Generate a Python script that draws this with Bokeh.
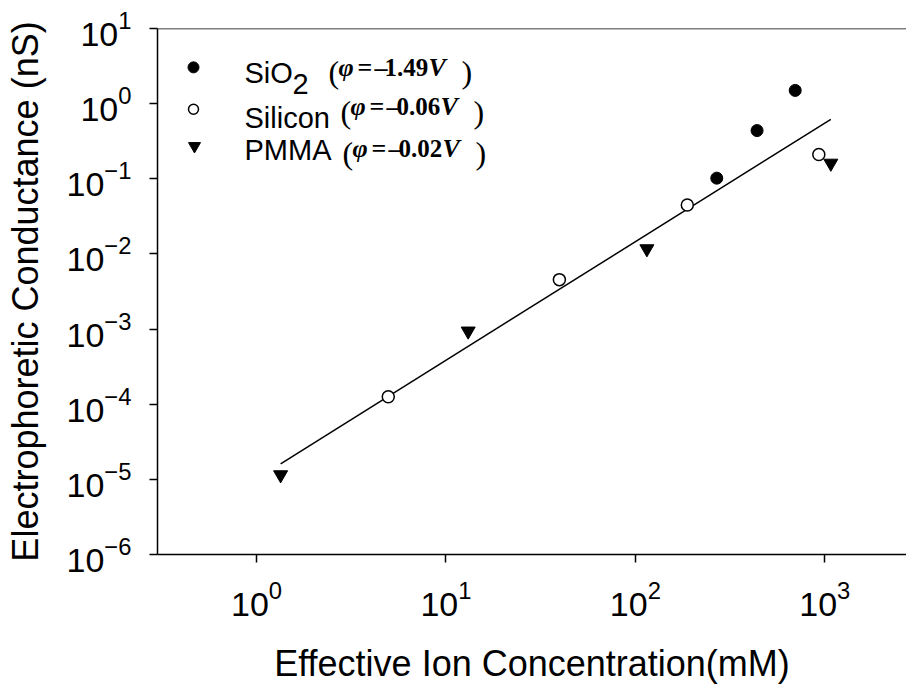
import math
from bokeh.plotting import figure
from bokeh.models import ColumnDataSource, Span, FixedTicker
from bokeh.core.properties import value
from bokeh.embed import file_html
from bokeh.resources import INLINE

# ---- data ----
x_ticks = [1, 10, 100, 1000]
y_ticks = [1e-6, 1e-5, 1e-4, 1e-3, 1e-2, 1e-1, 1, 10]

sio2_x = [269, 439, 698]
sio2_y = [0.102, 0.438, 1.50]

silicon_x = [4.96, 39.7, 188, 930]
silicon_y = [1.26e-4, 4.55e-3, 0.0449, 0.21]

pmma_x = [1.34, 13.1, 115, 1076]
pmma_y = [1.15e-5, 9.4e-4, 0.0117, 0.161]

fit_x = [1.34, 1076]
fit_y = [1.61e-5, 0.618]

series_names = ["SiO", "Silicon", "PMMA"]
potentials = ["1.49", "0.06", "0.02"]

# ---- figure geometry ----
W, H = 906, 686
LEFT, RIGHT, TOP, BOTTOM = 157, 906, 28, 556
X0, X1 = 0.3, 2700
Y0, Y1 = 1e-6, 10

p = figure(width=W, height=H, x_axis_type="log", y_axis_type="log",
           x_range=(X0, X1), y_range=(Y0, Y1),
           output_backend="svg", toolbar_location=None,
           min_border_left=LEFT, min_border_right=W - RIGHT,
           min_border_top=TOP, min_border_bottom=H - BOTTOM)
p.grid.visible = False
p.outline_line_color = None
p.background_fill_color = "white"
p.border_fill_color = "white"

for ax, ticks in ((p.xaxis[0], x_ticks), (p.yaxis[0], y_ticks)):
    ax.ticker = FixedTicker(ticks=ticks)
    ax.axis_line_width = 1.5
    ax.axis_line_color = "black"
    ax.major_tick_in = 0
    ax.major_tick_out = 8
    ax.major_tick_line_width = 1.5
    ax.major_tick_line_color = "black"
    ax.minor_tick_line_color = None
    ax.major_label_text_font = "Liberation Sans"
    ax.major_label_text_font_size = "34px"
    ax.major_label_text_color = "black"
    ax.major_label_standoff = 18
    ax.axis_label_text_font = "Liberation Sans"
    ax.axis_label_text_font_size = "36px"
    ax.axis_label_text_font_style = "normal"
    ax.axis_label_text_color = "black"
    ax.axis_label_standoff = 18
p.xaxis[0].axis_label_standoff = 24

p.xaxis.axis_label = "Effective Ion Concentration(mM)"
p.yaxis.axis_label = "Electrophoretic Conductance (nS)"

p.add_layout(Span(location=Y1, dimension="width", line_color="black", line_width=1.5))

# ---- fit line and data ----
p.line(fit_x, fit_y, line_color="black", line_width=1.5)
p.scatter(sio2_x, sio2_y, marker="circle", size=12, fill_color="black", line_color="black")
p.scatter(silicon_x, silicon_y, marker="circle", size=12, fill_color="white",
          line_color="black", line_width=1.5)
p.scatter(pmma_x, pmma_y, marker="inverted_triangle", size=14, fill_color="black",
          line_color="black")

# ---- legend (manual, pixel layout converted to data coords) ----
def px2x(px):
    return 10 ** (math.log10(X0) + (px - LEFT) / (RIGHT - LEFT) * math.log10(X1 / X0))

def py2y(py):
    return 10 ** (math.log10(Y1) - (py - TOP) / (BOTTOM - TOP) * math.log10(Y1 / Y0))

p.scatter([px2x(193)], [py2y(67)], marker="circle", size=11, fill_color="black", line_color="black")
p.scatter([px2x(193)], [py2y(109)], marker="circle", size=10, fill_color="white",
          line_color="black", line_width=1.5)
p.scatter([px2x(194)], [py2y(146)], marker="inverted_triangle", size=12, fill_color="black",
          line_color="black")

txt = dict(x=[], y=[], text=[], font=[], size=[], style=[])

def add(px, py, t, font, size, style):
    txt["x"].append(px2x(px))
    txt["y"].append(py2y(py))
    txt["text"].append(t)
    txt["font"].append(font)
    txt["size"].append(size)
    txt["style"].append(style)

SANS = "Liberation Sans"
SERIF = "Liberation Serif"
add(244, 72.7, series_names[0], SANS, "29px", "normal")
add(292, 83.5, "2", SANS, "29px", "normal")
add(244, 118, series_names[1], SANS, "29px", "normal")
add(244, 150, series_names[2], SANS, "29px", "normal")

eq_rows = [(328, 66.7), (340, 106.7), (342, 148.3)]
for (x0, base), pot in zip(eq_rows, potentials):
    add(x0, base + 5, "(", SERIF, "32px", "normal")
    add(x0 + 10, base, "\u03c6", SERIF, "26px", "bold italic")
    add(x0 + 29, base, "=", SERIF, "26px", "bold")
    add(x0 + 46, base, "\u2013", SERIF, "26px", "bold")
    add(x0 + 56, base, pot, SERIF, "25px", "bold")
    add(x0 + 100, base, "V", SERIF, "26px", "bold italic")
    add(x0 + 133, base + 5, ")", SERIF, "32px", "normal")

src = ColumnDataSource(txt)
p.text(x="x", y="y", text="text", source=src, text_font="font", text_font_size="size",
       text_font_style="style", text_color="black", text_align="left",
       text_baseline="alphabetic")

open("out.html", "w").write(file_html(p, INLINE))
